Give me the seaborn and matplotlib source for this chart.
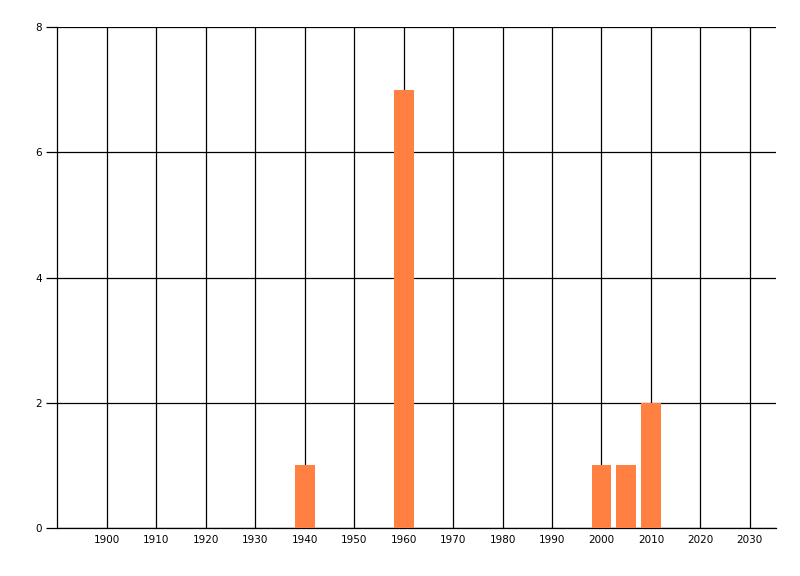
import pandas as pd
import seaborn as sns
import matplotlib.pyplot as plt

# bar data
years = [1940, 1960, 2000, 2005, 2010]
counts = [1, 7, 1, 1, 2]

x_ticks = list(range(1900, 2031, 10))
y_ticks = [0, 2, 4, 6, 8]

bar_color = "#FF8040"


def main():
    sns.set_theme(style="white")
    plt.rcParams["font.family"] = ["DejaVu Sans"]

    df = pd.DataFrame({"year": years, "count": counts})

    fig = plt.figure(figsize=(8, 5.76), dpi=100)
    ax = fig.add_axes([57.5 / 800, 1 - 528 / 576, (776 - 57.5) / 800, (528 - 27) / 576])

    sns.barplot(data=df, x="year", y="count", native_scale=True, width=0.8,
                color=bar_color, saturation=1, linewidth=0, ax=ax, zorder=3)

    ax.set_xlim(1890, 2035.3)
    ax.set_ylim(0, 8)
    ax.set_xticks(x_ticks)
    ax.set_xticklabels([str(t) for t in x_ticks])
    ax.set_yticks(y_ticks)
    ax.set_yticklabels([str(t) for t in y_ticks])

    ax.grid(True, color="black", linewidth=0.9)
    ax.set_axisbelow(True)

    for side in ["top", "right"]:
        ax.spines[side].set_visible(False)
    for side in ["left", "bottom"]:
        ax.spines[side].set_color("black")
        ax.spines[side].set_linewidth(0.9)

    ax.tick_params(axis="x", length=0, pad=5, labelsize=7.5, colors="black")
    ax.tick_params(axis="y", length=8, width=0.9, pad=3, labelsize=7.5,
                   colors="black", direction="out", left=True)

    ax.set_xlabel("")
    ax.set_ylabel("")

    fig.savefig("out.png", dpi=100)


if __name__ == "__main__":
    main()
